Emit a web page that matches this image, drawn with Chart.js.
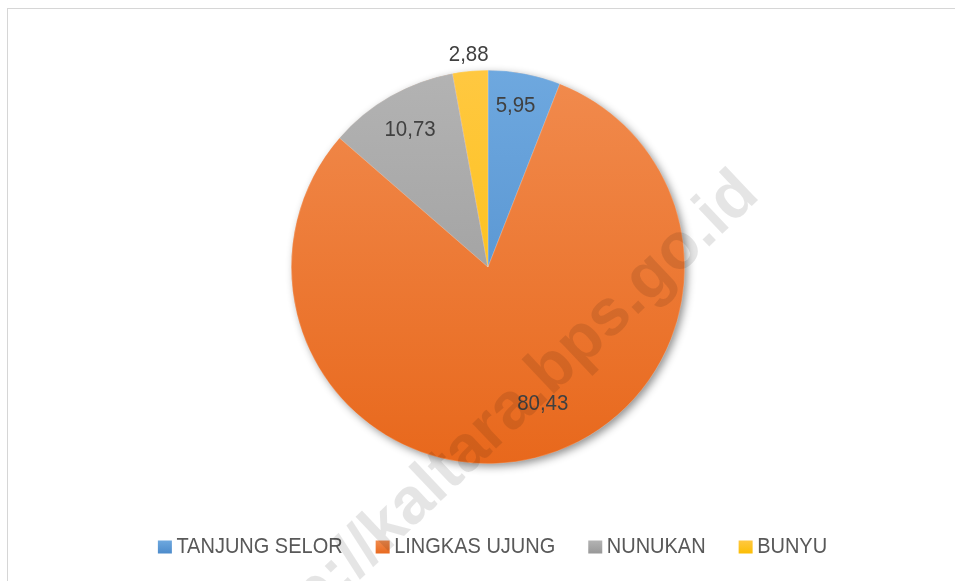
<!DOCTYPE html>
<html>
<head>
<meta charset="utf-8">
<script src="https://cdn.jsdelivr.net/npm/chart.js@4.4.0/dist/chart.umd.min.js"></script>
<style>
  html, body { margin: 0; padding: 0; background: #fff; overflow: hidden; }
  #frame { position: absolute; left: 7px; top: 8px; width: 960px; height: 590px;
           border-left: 1.5px solid #d6d6d6; border-top: 1.5px solid #d6d6d6; }
  #wrap { position: absolute; left: 0; top: 0; width: 955px; height: 581px; }
</style>
</head>
<body>
<div id="frame"></div>
<div id="wrap"><canvas id="c" width="955" height="581"></canvas></div>
<script>
const categories = ['TANJUNG SELOR', 'LINGKAS UJUNG', 'NUNUKAN', 'BUNYU'];
const values = [5.95, 80.43, 10.73, 2.88];
const valueLabels = ['5,95', '80,43', '10,73', '2,88'];
const topColors = ['#6ea8df', '#f18b4e', '#b3b3b3', '#ffc841'];
const bottomColors = ['#4a89c9', '#e8681c', '#969696', '#fbbd00'];
const legendColors = ['#5b9bd5', '#ed7d31', '#a5a5a5', '#ffc000'];
const watermarkText = 'http://kaltara.bps.go.id';

const FONT = '"Liberation Sans", Arial, sans-serif';
const TEXT_SCALE = 0.93; // slight horizontal condensing to imitate a narrower face

function drawText(ctx, txt, x, y, align) {
  ctx.save();
  const w = ctx.measureText(txt).width * TEXT_SCALE;
  let sx = x;
  if (align === 'center') sx = x - w / 2;
  else if (align === 'right') sx = x - w;
  ctx.translate(sx, y);
  ctx.scale(TEXT_SCALE, 1);
  ctx.textAlign = 'left';
  ctx.fillText(txt, 0, 0);
  ctx.restore();
  return w;
}

// label placement tweaks (radius fraction, angle shift in degrees)
const labelPlacement = [
  { r: 0.83, da: -1 },
  { r: 0.75, da: -8 },
  { r: 0.80, da: 0 },
  { r: 1.085, da: 0 }
];

const shadowPlugin = {
  id: 'shadow',
  beforeDatasetsDraw(chart) {
    const arc = chart.getDatasetMeta(0).data[0];
    if (!arc) return;
    const ctx = chart.ctx;
    ctx.save();
    ctx.shadowColor = 'rgba(0,0,0,0.45)';
    ctx.shadowBlur = 9;
    ctx.shadowOffsetX = 3;
    ctx.shadowOffsetY = 3;
    ctx.fillStyle = '#e8681c';
    ctx.beginPath();
    ctx.arc(arc.x, arc.y, arc.outerRadius - 0.5, 0, Math.PI * 2);
    ctx.fill();
    ctx.restore();
  }
};

const labelPlugin = {
  id: 'labels',
  afterDatasetsDraw(chart) {
    const ctx = chart.ctx;
    const meta = chart.getDatasetMeta(0);
    ctx.save();
    ctx.font = '22px ' + FONT;
    ctx.fillStyle = '#404040';
    ctx.textBaseline = 'middle';
    meta.data.forEach((arc, i) => {
      const p = labelPlacement[i];
      const mid = (arc.startAngle + arc.endAngle) / 2 + p.da * Math.PI / 180;
      const r = arc.outerRadius * p.r;
      const x = arc.x + Math.cos(mid) * r;
      const y = arc.y + Math.sin(mid) * r;
      drawText(ctx, valueLabels[i], x, y, 'center');
    });
    ctx.restore();

    // legend
    ctx.save();
    ctx.font = '21.5px ' + FONT;
    ctx.textBaseline = 'middle';
    const box = 14, gapBoxText = 4.5, gapItems = 33;
    let widths = categories.map(c => ctx.measureText(c).width * TEXT_SCALE);
    let total = 0;
    widths.forEach((w, i) => { total += box + gapBoxText + w + (i < widths.length - 1 ? gapItems : 0); });
    let x = 492.5 - total / 2;
    const y = 547.5;
    categories.forEach((c, i) => {
      const g = ctx.createLinearGradient(0, y - box / 2, 0, y + box / 2);
      g.addColorStop(0, topColors[i]);
      g.addColorStop(1, bottomColors[i]);
      ctx.fillStyle = g;
      ctx.fillRect(x, y - box / 2, box, box - 1);
      x += box + gapBoxText;
      ctx.fillStyle = '#595959';
      drawText(ctx, c, x, y, 'left');
      x += widths[i] + gapItems;
    });
    ctx.restore();

    // watermark
    ctx.save();
    ctx.font = 'bold 50px ' + FONT;
    const tail = ctx.measureText('//kaltara.bps.go.id').width;
    const size = 50 * 555 / tail;
    ctx.font = 'bold ' + size.toFixed(1) + 'px ' + FONT;
    ctx.fillStyle = 'rgba(0,0,0,0.10)';
    ctx.translate(745, 180);
    ctx.rotate(-43.5 * Math.PI / 180);
    ctx.textAlign = 'right';
    ctx.textBaseline = 'alphabetic';
    ctx.fillText(watermarkText, 0, size * 0.36);
    ctx.restore();
  }
};

const ctx = document.getElementById('c').getContext('2d');

new Chart(ctx, {
  type: 'pie',
  data: {
    labels: categories,
    datasets: [{
      data: values,
      backgroundColor: function(context) {
        const i = context.dataIndex;
        const chart = context.chart;
        const a = chart.chartArea;
        if (!a || i === undefined) return legendColors[i || 0];
        const g = chart.ctx.createLinearGradient(0, a.top, 0, a.bottom);
        g.addColorStop(0, topColors[i]);
        g.addColorStop(1, bottomColors[i]);
        return g;
      },
      borderWidth: 0.6,
      borderColor: 'rgba(255,255,255,0.35)'
    }]
  },
  options: {
    responsive: false,
    animation: false,
    layout: { padding: { left: 291, right: 270, top: 70, bottom: 117 } },
    plugins: {
      legend: { display: false },
      tooltip: { enabled: false }
    }
  },
  plugins: [shadowPlugin, labelPlugin]
});
</script>
</body>
</html>
